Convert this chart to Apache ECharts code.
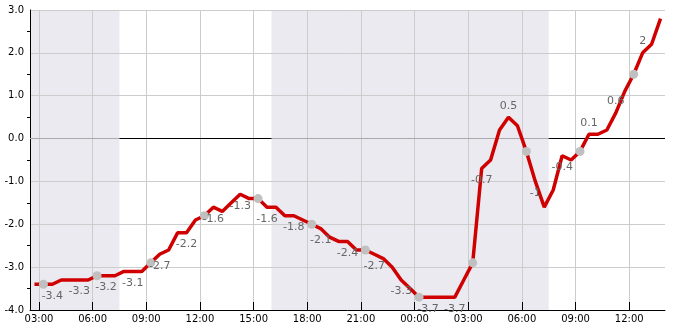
<!DOCTYPE html>
<html><head><meta charset="utf-8">
<script src="https://cdn.jsdelivr.net/npm/echarts@6/dist/echarts.min.js"></script>
<style>html,body{margin:0;padding:0;background:#fff}#c{width:685px;height:330px}</style>
</head><body><div id="c"></div>
<script>
// hours counted from 00:00 of the first day
const startHour = 2.75, stepHours = 0.5;
const temperature = [
  -3.4,-3.4,-3.4,-3.3,-3.3,-3.3,-3.3,-3.2,-3.2,-3.2,-3.1,-3.1,-3.1,
  -2.9,-2.7,-2.6,-2.2,-2.2,-1.9,-1.8,-1.6,-1.7,-1.5,-1.3,-1.4,-1.4,-1.6,-1.6,
  -1.8,-1.8,-1.9,-2.0,-2.1,-2.3,-2.4,-2.4,-2.6,-2.6,-2.7,-2.8,-3.0,-3.3,-3.5,
  -3.7,-3.7,-3.7,-3.7,-3.7,-3.3,-2.9,-0.7,-0.5,0.2,0.5,0.3,-0.3,-1.0,-1.6,-1.2,
  -0.4,-0.5,-0.3,0.1,0.1,0.2,0.6,1.1,1.5,2.0,2.2,2.8
];
const tickHours = [3,6,9,12,15,18,21,24,27,30,33,36];
const tickLabels = ['03:00','06:00','09:00','12:00','15:00','18:00','21:00','00:00','03:00','06:00','09:00','12:00'];
const nightBands = [[2.5,7.5],[16,31.5]];
const dayBands = [[7.5,16],[31.5,38]];
const xMin = 2.5, xMax = 38;
const labelEvery = 3, labelOffset = 2;
const dotEvery = 6, dotOffset = 1;

const points = temperature.map((v,i)=>{
  const item = {value:[startHour + i*stepHours, v]};
  if (i % labelEvery === labelOffset) {
    item.label = {show:true, position: v >= 0 ? 'top' : 'bottom'};
  }
  return item;
});

const zeroSegs = [];
nightBands.forEach(b=>zeroSegs.push([{coord:[b[0],0], lineStyle:{color:'#aaaaaa'}},{coord:[b[1],0]}]));
dayBands.forEach(b=>zeroSegs.push([{coord:[b[0],0], lineStyle:{color:'#000000'}},{coord:[b[1],0]}]));

const chart = echarts.init(document.getElementById('c'), null, {renderer:'canvas'});
chart.setOption({
  animation:false,
  grid:{left:30,right:20,top:10,bottom:20,containLabel:false},
  xAxis:{
    type:'value', min:xMin, max:xMax, z:3,
    axisLine:{show:true,onZero:false,lineStyle:{color:'#000',width:1}},
    axisTick:{show:true,inside:true,length:8,lineStyle:{color:'#000'},customValues:tickHours},
    axisLabel:{customValues:tickHours,color:'#000',fontSize:10,fontFamily:'DejaVu Sans',margin:4,
      formatter:(v)=>tickLabels[tickHours.indexOf(Math.round(v))] || ''},
    splitLine:{show:true,lineStyle:{color:'#cccccc',width:1}}
  },
  yAxis:{
    type:'value', min:-4, max:3, interval:1, z:3,
    axisLine:{show:true,onZero:false,lineStyle:{color:'#000',width:1}},
    axisTick:{show:false},
    minorTick:{show:true,splitNumber:2,length:3,lineStyle:{color:'#000'}},
    axisLabel:{color:'#000',fontSize:10,fontFamily:'DejaVu Sans',margin:6,formatter:(v)=>v.toFixed(1)},
    splitLine:{show:true,lineStyle:{color:'#cccccc',width:1}}
  },
  series:[
    {type:'line', z:1, data:points.map(p=>p.value), showSymbol:false, silent:true,
      lineStyle:{width:0,opacity:0},
      markArea:{silent:true, itemStyle:{color:'#eaeaf0'},
        data: nightBands.map(b=>[{xAxis:b[0]},{xAxis:b[1]}])}
    },
    {type:'line', z:4, data:points.map(p=>p.value), showSymbol:false, silent:true,
      lineStyle:{width:0,opacity:0},
      markLine:{silent:true, symbol:['none','none'], label:{show:false},
        lineStyle:{type:'solid',width:1.2}, data: zeroSegs}
    },
    {type:'line', z:5, data:points, silent:true,
      lineStyle:{color:'#d00000',width:3.5},
      symbol:'circle',
      symbolSize:(val,params)=> (params.dataIndex % dotEvery === dotOffset) ? 9 : 0,
      itemStyle:{color:'#c0c0c0',borderWidth:0},
      label:{show:false,color:'#666666',fontSize:11,fontFamily:'DejaVu Sans',distance:6,
        formatter:(p)=>String(p.value[1])}
    }
  ]
});
</script></body></html>
